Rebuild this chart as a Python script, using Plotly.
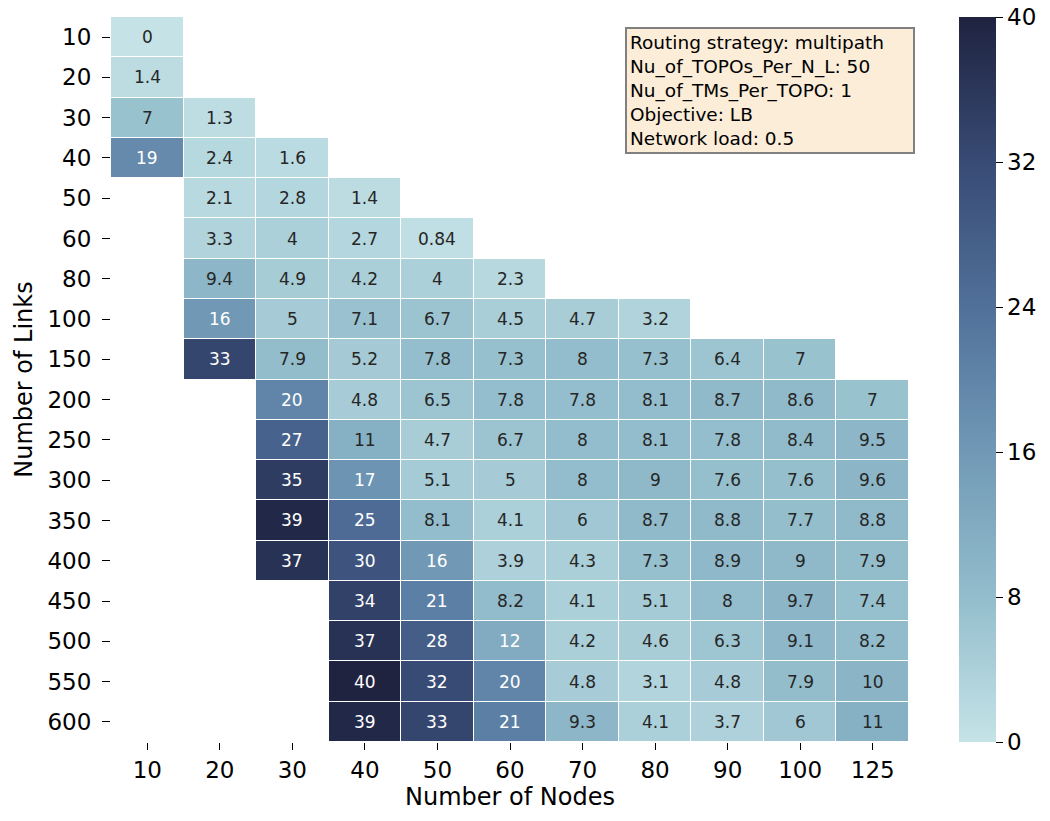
import numpy as np
import plotly.graph_objects as go

nodes = ["10", "20", "30", "40", "50", "60", "70", "80", "90", "100", "125"]
links = ["10", "20", "30", "40", "50", "60", "80", "100", "150", "200",
         "250", "300", "350", "400", "450", "500", "550", "600"]

N = None
values = [
    [0,    N,    N,    N,    N,    N,    N,    N,    N,    N,    N],
    [1.4,  N,    N,    N,    N,    N,    N,    N,    N,    N,    N],
    [7,    1.3,  N,    N,    N,    N,    N,    N,    N,    N,    N],
    [19,   2.4,  1.6,  N,    N,    N,    N,    N,    N,    N,    N],
    [N,    2.1,  2.8,  1.4,  N,    N,    N,    N,    N,    N,    N],
    [N,    3.3,  4,    2.7,  0.84, N,    N,    N,    N,    N,    N],
    [N,    9.4,  4.9,  4.2,  4,    2.3,  N,    N,    N,    N,    N],
    [N,    16,   5,    7.1,  6.7,  4.5,  4.7,  3.2,  N,    N,    N],
    [N,    33,   7.9,  5.2,  7.8,  7.3,  8,    7.3,  6.4,  7,    N],
    [N,    N,    20,   4.8,  6.5,  7.8,  7.8,  8.1,  8.7,  8.6,  7],
    [N,    N,    27,   11,   4.7,  6.7,  8,    8.1,  7.8,  8.4,  9.5],
    [N,    N,    35,   17,   5.1,  5,    8,    9,    7.6,  7.6,  9.6],
    [N,    N,    39,   25,   8.1,  4.1,  6,    8.7,  8.8,  7.7,  8.8],
    [N,    N,    37,   30,   16,   3.9,  4.3,  7.3,  8.9,  9,    7.9],
    [N,    N,    N,    34,   21,   8.2,  4.1,  5.1,  8,    9.7,  7.4],
    [N,    N,    N,    37,   28,   12,   4.2,  4.6,  6.3,  9.1,  8.2],
    [N,    N,    N,    40,   32,   20,   4.8,  3.1,  4.8,  7.9,  10],
    [N,    N,    N,    39,   33,   21,   9.3,  4.1,  3.7,  6,    11],
]

info_lines = [
    "Routing strategy: multipath",
    "Nu_of_TOPOs_Per_N_L: 50",
    "Nu_of_TMs_Per_TOPO: 1",
    "Objective: LB",
    "Network load: 0.5",
]

z = np.array([[np.nan if v is None else v for v in row] for row in values], dtype=float)
xi = list(range(len(nodes)))
yi = list(range(len(links)))

colorscale = [
    [0.0, "#c5e3e7"],
    [0.2, "#93bdcc"],
    [0.4, "#7199b6"],
    [0.6, "#50709a"],
    [0.8, "#384b74"],
    [1.0, "#1f2340"],
]

FONT = "DejaVu Sans"
TICK_SIZE = 23
TITLE_SIZE = 24

fig = go.Figure(go.Heatmap(
    z=z, x=xi, y=yi,
    zmin=0, zmax=40,
    colorscale=colorscale,
    xgap=1, ygap=1,
    hoverongaps=False,
    colorbar=dict(
        x=1.050, xanchor="left", xref="paper",
        y=0, yanchor="bottom", len=1, lenmode="fraction", ypad=0,
        thickness=37, outlinewidth=0,
        tickvals=[0, 8, 16, 24, 32, 40],
        ticks="outside", ticklen=7, tickwidth=1.2, tickcolor="black",
        tickfont=dict(family=FONT, size=TICK_SIZE, color="black"),
    ),
))

annotations = []
for i in yi:
    for j in xi:
        v = values[i][j]
        if v is None:
            continue
        annotations.append(dict(
            x=j, y=i, text=f"{v:.2g}", showarrow=False,
            font=dict(family=FONT, size=17,
                      color="white" if v >= 11.5 else "#262626"),
        ))

# parameter box in the upper right corner
annotations.append(dict(
    xref="paper", yref="paper", x=0.644, y=0.986,
    xanchor="left", yanchor="top", align="left",
    width=280,
    text="<br>".join(info_lines), showarrow=False,
    font=dict(family=FONT, size=18.5, color="black"),
    bgcolor="#fbedd8", bordercolor="#808080", borderwidth=2, borderpad=3,
))

fig.update_layout(
    width=1050, height=821,
    margin=dict(l=111, r=141, t=17, b=79, autoexpand=False),
    paper_bgcolor="white", plot_bgcolor="white",
    font=dict(family=FONT, color="black"),
    annotations=annotations,
    xaxis=dict(
        range=[-0.5, len(nodes) - 0.5],
        tickvals=xi, ticktext=nodes,
        title=dict(text="Number of Nodes", font=dict(size=TITLE_SIZE), standoff=4),
        ticks="outside", ticklen=7, tickwidth=1.2, tickcolor="black",
        tickfont=dict(size=TICK_SIZE), showgrid=False, zeroline=False, showline=False,
    ),
    yaxis=dict(
        range=[len(links) - 0.5, -0.5],
        tickvals=yi, ticktext=links,
        title=dict(text="Number of Links", font=dict(size=TITLE_SIZE), standoff=8),
        ticks="outside", ticklen=8, tickwidth=1.2, tickcolor="black",
        ticklabelstandoff=6,
        tickfont=dict(size=TICK_SIZE), showgrid=False, zeroline=False, showline=False,
    ),
)

fig.write_html("out.html")
